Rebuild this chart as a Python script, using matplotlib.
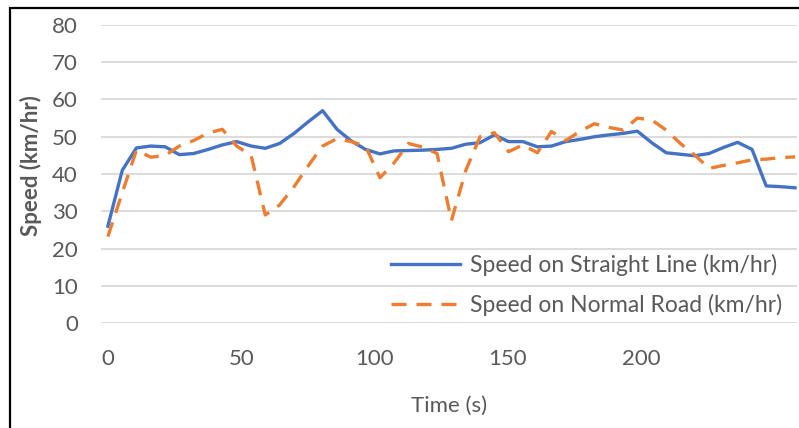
# Speed vs time, straight line vs normal road
import matplotlib
matplotlib.use('Agg')
import matplotlib.pyplot as plt
from matplotlib.patches import Rectangle

# time stamps (s)
time_s = [0, 5.4, 10.7, 16.1, 21.5, 26.8, 32.2, 37.6, 42.9, 48.3,
          53.7, 59.0, 64.4, 69.8, 75.1, 80.5, 85.9, 91.2, 96.6, 102.0,
          107.3, 112.7, 118.1, 123.4, 128.8, 134.2, 139.5, 144.9, 150.2, 155.6,
          161.0, 166.3, 171.7, 177.1, 182.4, 187.8, 193.2, 198.5, 203.9, 209.3,
          214.6, 220.0, 225.4, 230.7, 236.1, 241.5, 246.8, 252.2, 257.6]

speed_straight = [26, 41, 47, 47.5, 47.3, 45.2, 45.5, 46.6, 47.8, 48.7,
                  47.5, 46.9, 48.2, 50.9, 54, 57, 52, 48.9, 46.6, 45.4,
                  46.2, 46.3, 46.4, 46.6, 46.9, 48, 48.4, 50.5, 48.7, 48.7,
                  47.3, 47.5, 48.7, 49.3, 50, 50.5, 50.9, 51.5, 48.4, 45.7,
                  45.3, 44.9, 45.5, 47.1, 48.5, 46.6, 36.8, 36.6, 36.3]

speed_normal = [23.2, 35, 46.4, 44.5, 45, 47.5, 49, 51, 52, 47.5,
                45, 29, 31.7, 36.6, 42.2, 47.5, 49.5, 48.7, 47.5, 39,
                43, 48.2, 47.2, 45.5, 27.5, 41, 50, 51.1, 46, 47.8,
                45.7, 51.4, 49, 51.5, 53.5, 52.5, 51.8, 55, 54.5, 51.8,
                48.2, 45.1, 41.5, 42.3, 43, 43.8, 44, 44.4, 44.6]

labels = ['Speed on Straight Line (km/hr)', 'Speed on Normal Road (km/hr)']

plt.rcParams['font.family'] = ['Lato', 'DejaVu Sans']
grey = '#595959'

fig = plt.figure(figsize=(7.99, 4.28), dpi=100)
ax = fig.add_axes([0.127, 0.2453, 0.871, 0.6963])

ax.plot(time_s, speed_straight, color='#4472C4', lw=2.4, label=labels[0])
ax.plot(time_s, speed_normal, color='#ED7D31', lw=2.4, dashes=(4.5, 3), label=labels[1])

ax.set_xlim(-2.4, 258.5)
ax.set_ylim(0, 80)
ax.set_xticks([0, 50, 100, 150, 200])
ax.set_yticks(range(0, 81, 10))
ax.grid(axis='y', color='#D9D9D9', lw=1.3)
ax.set_axisbelow(True)
for s in ax.spines.values():
    s.set_visible(False)
ax.tick_params(length=0, labelsize=16, labelcolor=grey)
ax.tick_params(axis='y', pad=17)
ax.tick_params(axis='x', pad=19)

ax.set_xlabel('Time (s)', fontsize=16, color=grey)
ax.xaxis.set_label_coords(0.5, -0.245)
ax.set_ylabel('Speed (km/hr)', fontsize=16, color=grey, fontweight='bold')
ax.yaxis.set_label_coords(-0.086, 0.53)

fig.legend(loc='upper left', bbox_to_anchor=(391 / 799, 1 - 254 / 428),
           frameon=False, fontsize=16.5, labelcolor=grey,
           handlelength=3.0, handletextpad=0.45, labelspacing=0.78,
           borderpad=0, borderaxespad=0)

# chart border (left and top visible)
fig.add_artist(Rectangle((10 / 799, -0.1), 1.2, 1 - 8 / 428 + 0.1,
                         transform=fig.transFigure, fill=False,
                         edgecolor='black', lw=1.6))

fig.savefig('out.png', dpi=100)
